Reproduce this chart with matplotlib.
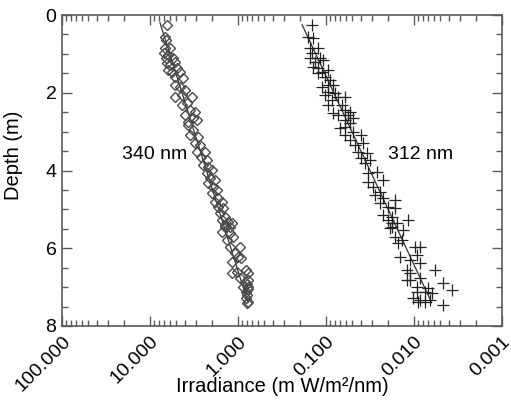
import numpy as np
import matplotlib
matplotlib.use("Agg")
import matplotlib.pyplot as plt
from matplotlib.ticker import LogLocator, FixedLocator, FormatStrFormatter, NullFormatter

plt.rcParams['font.family'] = ['Liberation Sans', 'DejaVu Sans']

# 340 nm measurements (depth m, irradiance mW/m2/nm)
d340 = [0.25, 0.56, 0.64, 0.86, 0.86, 0.98, 1.03, 1.10, 1.10, 1.23, 1.28, 1.20,
        1.41, 1.36, 1.47, 1.47, 1.59, 1.62, 1.80, 1.85, 1.93, 2.10, 2.06, 2.10,
        2.31, 2.26, 2.44, 2.49, 2.57, 2.65, 2.70, 2.75,
        2.83, 2.96, 3.08, 3.14, 3.29, 3.34, 3.52, 3.52, 3.65, 3.73, 3.86, 3.91,
        3.98, 4.06, 4.19, 4.24, 4.32, 4.42, 4.50, 4.58, 4.70, 4.80, 4.80, 4.94,
        4.96, 5.09, 5.19, 5.27, 5.32, 5.45, 5.45,
        5.40, 5.35, 5.58, 5.60, 5.78, 5.72, 5.96, 5.96, 6.12, 6.22, 6.25, 6.35,
        6.60, 6.63, 6.56, 6.63, 6.76, 6.86, 6.81, 6.99, 6.99, 7.12, 7.20, 7.27,
        7.37, 7.40, 7.05, 6.92]
i340 = [6.41, 6.76, 6.58, 6.76, 5.93, 6.93, 6.24, 6.58, 5.48, 6.41, 5.93, 5.20,
        6.24, 4.94, 5.62, 4.56, 5.20, 4.22, 5.20, 4.56, 4.00, 5.20, 4.33, 3.33,
        4.33, 3.80, 3.51, 3.08, 4.00, 3.25, 2.93, 3.70,
        3.70, 3.25, 3.51, 2.82, 3.08, 2.71, 2.93, 2.37, 2.60, 2.25, 2.50, 2.20,
        1.97, 2.25, 2.08, 1.82, 2.20, 1.90, 1.73, 1.97, 1.70, 1.82, 1.52, 1.70,
        1.49, 1.60, 1.41, 1.52, 1.30, 1.41, 1.23,
        1.41, 1.17, 1.52, 1.23, 1.33, 1.13, 1.23, 0.95, 1.08, 1.00, 0.93, 1.17,
        1.03, 1.17, 0.81, 0.77, 0.95, 0.84, 0.77, 0.88, 0.77, 0.81, 0.79, 0.81,
        0.77, 0.78, 0.77, 0.80]

# 312 nm measurements
d312 = [0.26, 0.56, 0.58, 0.86, 0.86, 0.98, 1.10, 1.10, 1.20, 1.15, 1.34, 1.36,
        1.47, 1.41, 1.50, 1.59, 1.67, 1.80, 1.85, 1.80, 1.98, 2.00, 2.06, 2.10,
        2.10, 2.18, 2.31, 2.31, 2.44, 2.49, 2.52, 2.57, 2.57, 2.70, 2.65, 2.78,
        2.90, 2.88, 3.08, 3.00, 3.21, 3.08, 3.34, 3.29, 3.52, 3.55, 3.68, 3.73,
        3.80, 4.03, 4.06, 4.24, 4.29, 4.42, 4.55, 4.63, 4.70, 4.76, 4.83, 4.94,
        4.96, 5.14, 5.19, 5.27, 5.35, 5.45,
        5.35, 5.27, 5.48, 5.53, 5.70, 5.78, 5.86, 5.96, 5.96, 6.22, 6.17, 6.30,
        6.38, 6.56, 6.63, 6.56, 6.81, 6.76, 6.81, 6.89, 6.99, 7.02, 7.07, 7.12,
        7.12, 7.15, 7.27, 7.33, 7.38, 7.38, 7.33, 7.46]
i312 = [0.144, 0.160, 0.141, 0.152, 0.123, 0.144, 0.152, 0.117, 0.133, 0.108, 0.141, 0.123,
        0.111, 0.0949, 0.123, 0.103, 0.0901, 0.0949, 0.111, 0.0832, 0.0949, 0.0791, 0.103, 0.0731,
        0.0608, 0.0849, 0.0949, 0.0651, 0.0608, 0.0534, 0.0832, 0.0731, 0.0562, 0.0608, 0.0493, 0.0534,
        0.0693, 0.0601, 0.0608, 0.0493, 0.0534, 0.0400, 0.0468, 0.0380, 0.0432, 0.0343, 0.0400, 0.0316,
        0.0361, 0.0265, 0.0333, 0.0225, 0.0333, 0.0292, 0.0243, 0.0278, 0.0225, 0.0164, 0.0243, 0.0197,
        0.0164, 0.0225, 0.0180, 0.0197, 0.0156, 0.0180,
        0.0180, 0.0117, 0.0187, 0.0133, 0.0164, 0.0136, 0.0152, 0.00975, 0.00855, 0.0144, 0.0093, 0.0111,
        0.00855, 0.0121, 0.0111, 0.00577, 0.0119, 0.00855, 0.0111, 0.00468, 0.0093, 0.00693, 0.00370, 0.0093,
        0.00750, 0.00620, 0.0103, 0.00855, 0.00750, 0.00901, 0.00658, 0.00468]

# fitted lines
fit340_d = [0.20, 7.40]
fit340_i = [7.7, 0.77]
fit312_d = [0.25, 7.40]
fit312_i = [0.187, 0.0063]

xticks = [100, 10, 1, 0.1, 0.01, 0.001]
yticks = [0, 2, 4, 6, 8]

fig = plt.figure(figsize=(5.11, 4.04), dpi=100)
ax = fig.add_axes([62/511, 1-326/404, 440/511, 311/404])

spc = '#5a5a5a'
ax.plot(fit340_i, fit340_d, color='#333333', lw=0.9)
ax.plot(fit312_i, fit312_d, color='#333333', lw=0.9)
ax.plot(i340, d340, ls='none', marker='D', ms=5, mfc='none', mec='#4a4a4a', mew=1.0)
ax.plot(i312, d312, ls='none', marker='+', ms=8, color='#222222', mew=0.9)

ax.set_xscale('log')
ax.set_xlim(100, 0.001)
ax.set_ylim(8, 0)
ax.xaxis.set_major_locator(FixedLocator(xticks))
ax.xaxis.set_major_formatter(FormatStrFormatter('%.3f'))
ax.xaxis.set_minor_locator(LogLocator(base=10, subs=np.arange(2, 10)))
ax.xaxis.set_minor_formatter(NullFormatter())
ax.yaxis.set_major_locator(FixedLocator(yticks))
ax.yaxis.set_minor_locator(FixedLocator(np.arange(0, 8.01, 0.5)))

ax.tick_params(which='both', direction='in', top=True, right=True, colors=spc,
               labelcolor='black', labelsize=14, width=1)
ax.tick_params(which='major', length=7)
ax.tick_params(which='minor', length=4)
ax.tick_params(axis='x', which='major', pad=5)
ax.tick_params(axis='y', which='major', pad=4)
for s in ax.spines.values():
    s.set_color(spc)
    s.set_linewidth(1.2)

for lab in ax.get_xticklabels():
    lab.set_rotation(45)
    lab.set_ha('right')
    lab.set_rotation_mode('anchor')

ax.text(8.8, 3.6, '340 nm', fontsize=14, ha='center', va='center')
ax.text(0.0085, 3.6, '312 nm', fontsize=14, ha='center', va='center')
ax.set_xlabel('Irradiance (m W/m\u00b2/nm)', fontsize=14.5)
ax.set_ylabel('Depth (m)', fontsize=14.5)
ax.xaxis.set_label_coords(0.5, -0.165)
ax.yaxis.set_label_coords(-0.088, 0.55)

fig.savefig('out.png', dpi=100)
